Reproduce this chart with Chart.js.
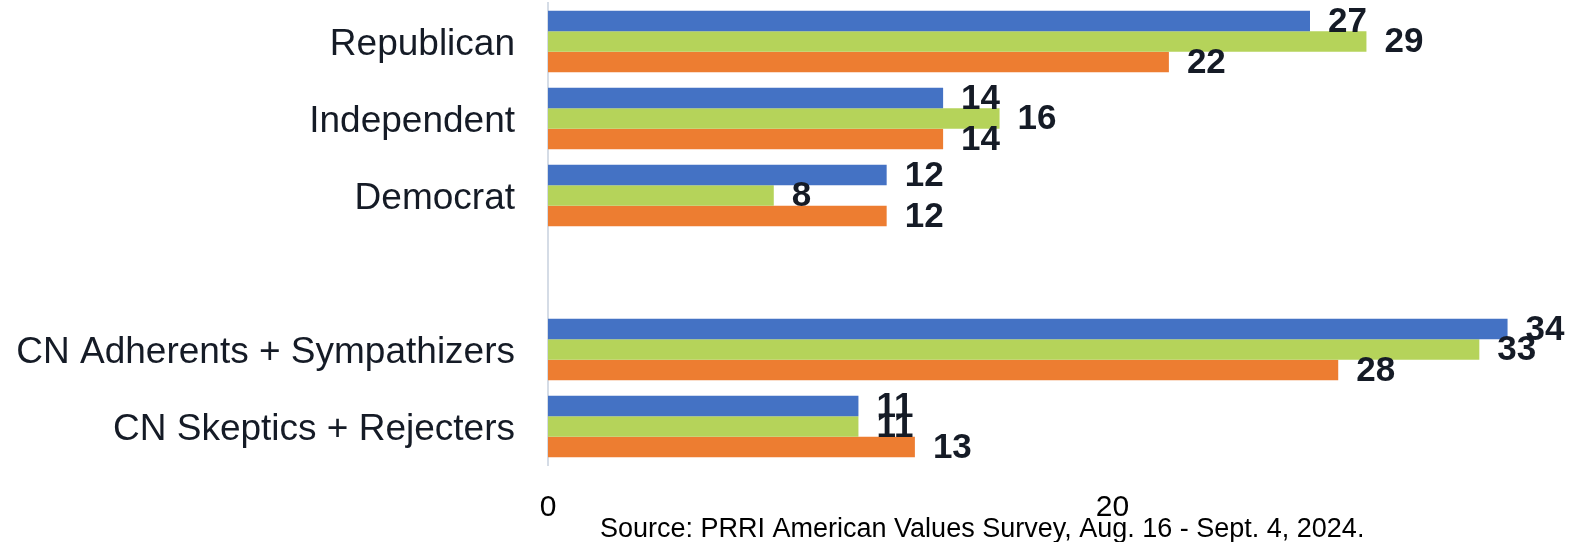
<!DOCTYPE html>
<html>
<head>
<meta charset="utf-8">
<script src="https://cdn.jsdelivr.net/npm/chart.js@4"></script>
<style>
  html, body { margin: 0; padding: 0; background: #ffffff; }
  #wrap { position: relative; width: 1573px; height: 542px; }
</style>
</head>
<body>
<div id="wrap"><canvas id="chart" width="1573" height="542"></canvas></div>
<script>
const categories = ['Republican', 'Independent', 'Democrat', '', 'CN Adherents + Sympathizers', 'CN Skeptics + Rejecters']
const blueValues = [27, 14, 12, null, 34, 11]
const greenValues = [29, 16, 8, null, 33, 11]
const orangeValues = [22, 14, 12, null, 28, 13]
const xTicks = [0, 20]
const sourceNote = 'Source: PRRI American Values Survey, Aug. 16 - Sept. 4, 2024.'

const FONT = "'Liberation Sans', Arial, sans-serif"
const TEXT = '#151b26'

// value labels at the end of each bar
const barLabels = {
  id: 'barLabels',
  afterDatasetsDraw(chart) {
    const ctx = chart.ctx
    ctx.save()
    ctx.font = 'bold 35px ' + FONT
    ctx.fillStyle = TEXT
    ctx.textAlign = 'left'
    ctx.textBaseline = 'middle'
    chart.data.datasets.forEach((ds, i) => {
      const meta = chart.getDatasetMeta(i)
      meta.data.forEach((bar, j) => {
        const v = ds.data[j]
        if (v === null || v === undefined) return
        ctx.fillText(String(v), bar.x + 18, bar.y + 1)
      })
    })
    ctx.restore()
  }
}

// source line under the axis
const sourceText = {
  id: 'sourceText',
  afterDraw(chart) {
    const ctx = chart.ctx
    ctx.save()
    ctx.font = '27px ' + FONT
    ctx.fillStyle = '#000000'
    ctx.textAlign = 'left'
    ctx.textBaseline = 'alphabetic'
    ctx.fillText(sourceNote, 600, 537)
    ctx.restore()
  }
}

new Chart(document.getElementById('chart'), {
  type: 'bar',
  data: {
    labels: categories,
    datasets: [
      { label: 'Series 1', data: blueValues, backgroundColor: '#4472C4' },
      { label: 'Series 2', data: greenValues, backgroundColor: '#B5D35A' },
      { label: 'Series 3', data: orangeValues, backgroundColor: '#ED7D31' }
    ]
  },
  options: {
    indexAxis: 'y',
    responsive: false,
    animation: false,
    layout: { padding: { top: 3, right: 9, bottom: 0, left: 0 } },
    datasets: {
      bar: { categoryPercentage: 0.8, barPercentage: 1.0, borderWidth: 0 }
    },
    plugins: {
      legend: { display: false },
      tooltip: { enabled: false }
    },
    scales: {
      x: {
        min: 0,
        max: 36,
        grid: { display: false, drawTicks: false },
        border: { display: false },
        afterBuildTicks(axis) {
          axis.ticks = xTicks.map(v => ({ value: v }))
        },
        afterFit(axis) {
          axis.height = 77
          axis.paddingLeft = 0
          axis.paddingRight = 0
        },
        ticks: {
          color: '#000000',
          font: { family: FONT, size: 30 },
          padding: 25,
          maxRotation: 0
        }
      },
      y: {
        grid: { display: false, drawTicks: false },
        border: { display: true, color: '#d5dce6', width: 2 },
        afterFit(axis) {
          axis.width = 548
          axis.paddingTop = 0
          axis.paddingBottom = 0
        },
        ticks: {
          color: TEXT,
          font: { family: FONT, size: 37 },
          padding: 33,
          labelOffset: 3
        }
      }
    }
  },
  plugins: [barLabels, sourceText]
})
</script>
</body>
</html>
